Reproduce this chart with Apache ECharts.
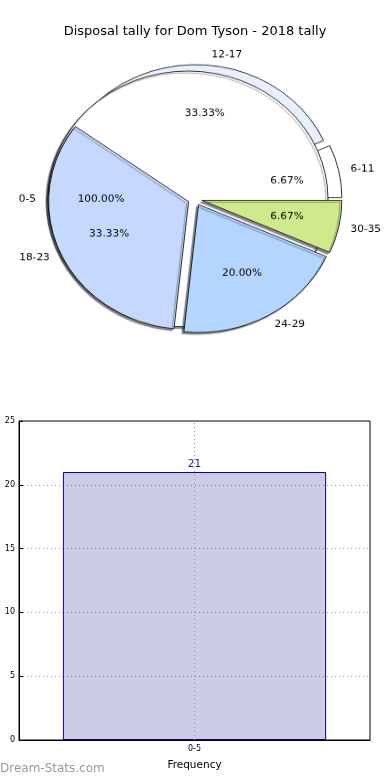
<!DOCTYPE html>
<html>
<head>
<meta charset="utf-8">
<script src="https://cdn.jsdelivr.net/npm/echarts@6/dist/echarts.min.js"></script>
<style>
html,body{margin:0;padding:0;background:#fff;}
#wrap{position:relative;width:390px;height:780px;overflow:hidden;}
#chart{position:absolute;left:0;top:0;width:390px;height:780px;}
#pie{position:absolute;left:0;top:0;width:390px;height:400px;transform-origin:195px 199px;transform:scaleY(0.914);}
</style>
</head>
<body>
<div id="wrap">
<div id="chart"></div>
<div id="pie"></div>
</div>
<script>
// ---- data ----
const chartTitle = 'Disposal tally for Dom Tyson - 2018 tally';
const pie1Groups = ['0-5'];
const pie1Counts = [21];
const pie2Groups = ['6-11', '12-17', '18-23', '24-29', '30-35'];
const pie2Counts = [1, 5, 5, 3, 1];
const barCategories = ['0-5'];
const barValues = [21];
const xAxisName = 'Frequency';
const yAxisName = 'Disposal Tally';
const watermark = 'Dream-Stats.com';

// ---- style ----
const pie2Colors = ['#ffffff', '#e8f0ff', '#c5d9ff', '#b3d5ff', '#cfea8a'];
const R = 140, CX = 195, CY = 199, OFF = 7;
const FONT = 'DejaVu Sans';
const lblFont = { fontFamily: FONT, fontSize: 10.5, color: '#000' };
const shadow = { shadowColor: 'rgba(0,0,0,0.45)', shadowBlur: 1, shadowOffsetX: -2, shadowOffsetY: 2 };

function pctText(v, arr) {
  const s = arr.reduce((a, b) => a + b, 0);
  return (v / s * 100).toFixed(2) + '%';
}

const pieCommon = {
  type: 'pie', center: [CX, CY], startAngle: 0, clockwise: false,
  selectedMode: 'multiple', selectedOffset: OFF, avoidLabelOverlap: false,
  animation: false, emphasis: { disabled: true }
};
const outerLabel = Object.assign({ show: true, position: 'outside', formatter: '{b}', distanceToLabelLine: 0 }, lblFont);
const outerLine = { show: false, length: 12, length2: 0 };
const transparentItem = { color: 'rgba(0,0,0,0)', borderWidth: 0 };

const pieSeries = [
  // back layer of pie 2 (first two slices)
  Object.assign({}, pieCommon, {
    name: 'back', z: 1, radius: [0, R],
    label: outerLabel, labelLine: outerLine,
    data: pie2Groups.map((g, i) => ({
      name: g, value: pie2Counts[i], selected: true,
      itemStyle: i < 2 ? { color: pie2Colors[i], borderColor: '#000', borderWidth: 0.8 } : transparentItem
    }))
  }),
  // pie 1 (white full disk)
  Object.assign({}, pieCommon, {
    name: 'pie1', z: 2, radius: [0, R],
    label: outerLabel, labelLine: outerLine,
    data: pie1Groups.map((g, i) => ({
      name: g, value: pie1Counts[i], selected: true,
      itemStyle: Object.assign({ color: '#ffffff', borderColor: '#000', borderWidth: 0.8 }, shadow)
    }))
  }),
  // front layer of pie 2
  Object.assign({}, pieCommon, {
    name: 'front', z: 3, radius: [0, R],
    label: { show: false }, labelLine: { show: false },
    data: pie2Groups.map((g, i) => ({
      name: g, value: pie2Counts[i], selected: true,
      itemStyle: i >= 2 ? Object.assign({ color: pie2Colors[i], borderColor: '#000', borderWidth: 0.8 }, shadow) : transparentItem
    }))
  }),
  // percentage labels pie 1
  Object.assign({}, pieCommon, {
    name: 'pct1', z: 4, radius: [0, R * 1.2],
    label: Object.assign({ show: true, position: 'inside', formatter: p => pctText(p.value, pie1Counts) }, lblFont),
    labelLine: { show: false },
    itemStyle: transparentItem,
    data: pie1Groups.map((g, i) => ({ name: g, value: pie1Counts[i], selected: true }))
  }),
  // percentage labels pie 2
  Object.assign({}, pieCommon, {
    name: 'pct2', z: 4, radius: [0, R * 1.2],
    label: Object.assign({ show: true, position: 'inside', formatter: p => pctText(p.value, pie2Counts) }, lblFont),
    labelLine: { show: false },
    itemStyle: transparentItem,
    data: pie2Groups.map((g, i) => ({ name: g, value: pie2Counts[i], selected: true }))
  })
];

const mainOption = {
  backgroundColor: '#fff',
  animation: false,
  textStyle: { fontFamily: FONT },
  title: {
    text: chartTitle, left: 'center', top: 20,
    textStyle: { fontFamily: FONT, fontSize: 13, fontWeight: 'normal', color: '#000' }
  },
  grid: {
    left: 19, right: 20, top: 421, bottom: 40, outerBoundsMode: 'none', containLabel: false,
    show: true, borderColor: '#000', borderWidth: 1, backgroundColor: 'rgba(0,0,0,0)'
  },
  xAxis: {
    type: 'category', data: barCategories,
    axisLine: { lineStyle: { color: '#000' } },
    axisTick: { inside: true, alignWithLabel: true, length: 4, lineStyle: { color: '#000' } },
    axisLabel: { fontSize: 8, color: '#000', margin: 5, fontFamily: FONT },
    splitLine: { show: false },
    name: xAxisName, nameLocation: 'middle', nameGap: 20,
    nameTextStyle: { fontSize: 10.5, color: '#000', fontFamily: FONT }
  },
  yAxis: {
    type: 'value', min: 0, max: 25, interval: 5,
    axisLine: { show: true, lineStyle: { color: '#000' } },
    axisTick: { show: true, inside: true, length: 4, lineStyle: { color: '#000' } },
    axisLabel: { fontSize: 8, color: '#000', margin: 4, fontFamily: FONT },
    splitLine: { show: true, lineStyle: { type: [1, 3], color: '#999' } },
    name: yAxisName, nameLocation: 'middle', nameGap: 19,
    nameTextStyle: { fontSize: 10.5, color: '#000', fontFamily: FONT }
  },
  graphic: [{
    type: 'text', left: 0, top: 763,
    style: { text: watermark, fontSize: 12, fill: '#9a9a9a', fontFamily: FONT }
  }],
  series: [{
    type: 'bar', barWidth: '75%', animation: false,
    data: barValues,
    itemStyle: { color: 'rgba(0,0,128,0.2)', borderColor: '#00008b', borderWidth: 1 },
    label: { show: true, position: 'top', distance: 2, color: '#1a1a8c', fontFamily: FONT, fontSize: 10.5 },
    markLine: {
      silent: true, symbol: 'none', label: { show: false },
      lineStyle: { type: [1, 3], color: '#999', width: 1 },
      data: [{ xAxis: barCategories[0] }]
    }
  }]
};

const pieOption = {
  backgroundColor: 'rgba(0,0,0,0)',
  animation: false,
  textStyle: { fontFamily: FONT },
  series: pieSeries
};

const mainChart = echarts.init(document.getElementById('chart'), null, { renderer: 'canvas' });
mainChart.setOption(mainOption);
const pieChart = echarts.init(document.getElementById('pie'), null, { renderer: 'canvas' });
pieChart.setOption(pieOption);
</script>
</body>
</html>
